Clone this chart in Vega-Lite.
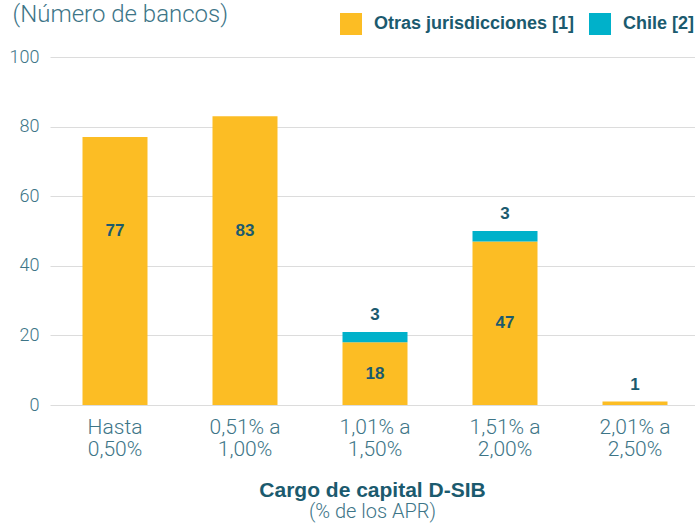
{
  "$schema": "https://vega.github.io/schema/vega-lite/v6.json",
  "width": 645,
  "height": 348,
  "autosize": {"type": "none"},
  "padding": {"left": 50, "top": 57, "right": 0, "bottom": 119},
  "background": "white",
  "config": {"view": {"stroke": null}, "font": "Roboto"},
  "title": {
    "text": "Cargo de capital D-SIB",
    "subtitle": "(% de los APR)",
    "orient": "bottom",
    "anchor": "middle",
    "offset": 21,
    "font": "Liberation Sans",
    "fontSize": 21,
    "fontWeight": "bold",
    "color": "#1B5A6E",
    "subtitleFont": "Roboto",
    "subtitleFontSize": 20,
    "subtitleFontWeight": 300,
    "subtitleColor": "#3D7587",
    "subtitlePadding": 1
  },
  "data": {
    "values": [
      {"cat": "Hasta|0,50%", "serie": "Otras jurisdicciones", "n": 77},
      {"cat": "0,51% a|1,00%", "serie": "Otras jurisdicciones", "n": 83},
      {"cat": "1,01% a|1,50%", "serie": "Otras jurisdicciones", "n": 18},
      {"cat": "1,01% a|1,50%", "serie": "Chile", "n": 3},
      {"cat": "1,51% a|2,00%", "serie": "Otras jurisdicciones", "n": 47},
      {"cat": "1,51% a|2,00%", "serie": "Chile", "n": 3},
      {"cat": "2,01% a|2,50%", "serie": "Otras jurisdicciones", "n": 1}
    ]
  },
  "transform": [
    {"stack": "n", "groupby": ["cat"], "sort": [{"field": "serie", "order": "descending"}], "as": ["y0", "y1"]}
  ],
  "encoding": {
    "x": {
      "field": "cat",
      "type": "nominal",
      "sort": ["Hasta|0,50%", "0,51% a|1,00%", "1,01% a|1,50%", "1,51% a|2,00%", "2,01% a|2,50%"],
      "scale": {"range": [0, 650], "paddingInner": 0.5, "paddingOuter": 0.25},
      "axis": {
        "title": null,
        "domain": false,
        "ticks": false,
        "labelAngle": 0,
        "labelPadding": 11,
        "labelFontSize": 21,
        "labelFontWeight": 300,
        "labelLineHeight": 22,
        "labelColor": "#3D7587",
        "labelExpr": "split(datum.label, '|')"
      }
    }
  },
  "layer": [
    {
      "mark": {"type": "bar"},
      "encoding": {
        "y": {
          "field": "y0",
          "type": "quantitative",
          "scale": {"domain": [0, 100]},
          "axis": {
            "title": "(Número de bancos)",
            "titleAngle": 0,
            "titleX": -38,
            "titleY": -55,
            "titleBaseline": "top",
            "titleAlign": "left",
            "titleFontSize": 24,
            "titleFontWeight": 300,
            "titleColor": "#3D7587",
            "values": [0, 20, 40, 60, 80, 100],
            "domain": false,
            "ticks": false,
            "labelPadding": 11,
            "labelFontSize": 18,
            "labelFontWeight": 300,
            "labelColor": "#3D7587",
            "gridColor": "#dcdcdc"
          }
        },
        "y2": {"field": "y1"},
        "color": {
          "field": "serie",
          "type": "nominal",
          "scale": {"domain": ["Otras jurisdicciones", "Chile"], "range": ["#FCBD24", "#00B1CA"]},
          "legend": {
            "title": null,
            "orient": "none",
            "direction": "horizontal",
            "legendX": 290,
            "legendY": -44,
            "symbolType": "square",
            "symbolSize": 484,
            "symbolStrokeWidth": 0,
            "labelFont": "Liberation Sans",
            "labelFontSize": 18,
            "labelFontWeight": "bold",
            "labelColor": "#1B5A6E",
            "labelOffset": 12,
            "labelLimit": 300,
            "columnPadding": 14,
            "labelExpr": "datum.label == 'Chile' ? 'Chile [2]' : 'Otras jurisdicciones [1]'"
          }
        }
      }
    },
    {
      "transform": [
        {"filter": "datum.serie == 'Otras jurisdicciones' && datum.n > 5"},
        {"calculate": "datum.n > 60 ? 50 : (datum.y0 + datum.y1) / 2", "as": "ly"}
      ],
      "mark": {"type": "text", "font": "Liberation Sans", "fontSize": 17, "fontWeight": "bold", "color": "#1B5A6E", "baseline": "middle"},
      "encoding": {
        "y": {"field": "ly", "type": "quantitative"},
        "text": {"field": "n", "type": "quantitative"}
      }
    },
    {
      "transform": [
        {"filter": "datum.serie == 'Chile' || datum.n <= 5"}
      ],
      "mark": {"type": "text", "font": "Liberation Sans", "fontSize": 17, "fontWeight": "bold", "color": "#1B5A6E", "baseline": "middle", "dy": -17},
      "encoding": {
        "y": {"field": "y1", "type": "quantitative"},
        "text": {"field": "n", "type": "quantitative"}
      }
    }
  ]
}
